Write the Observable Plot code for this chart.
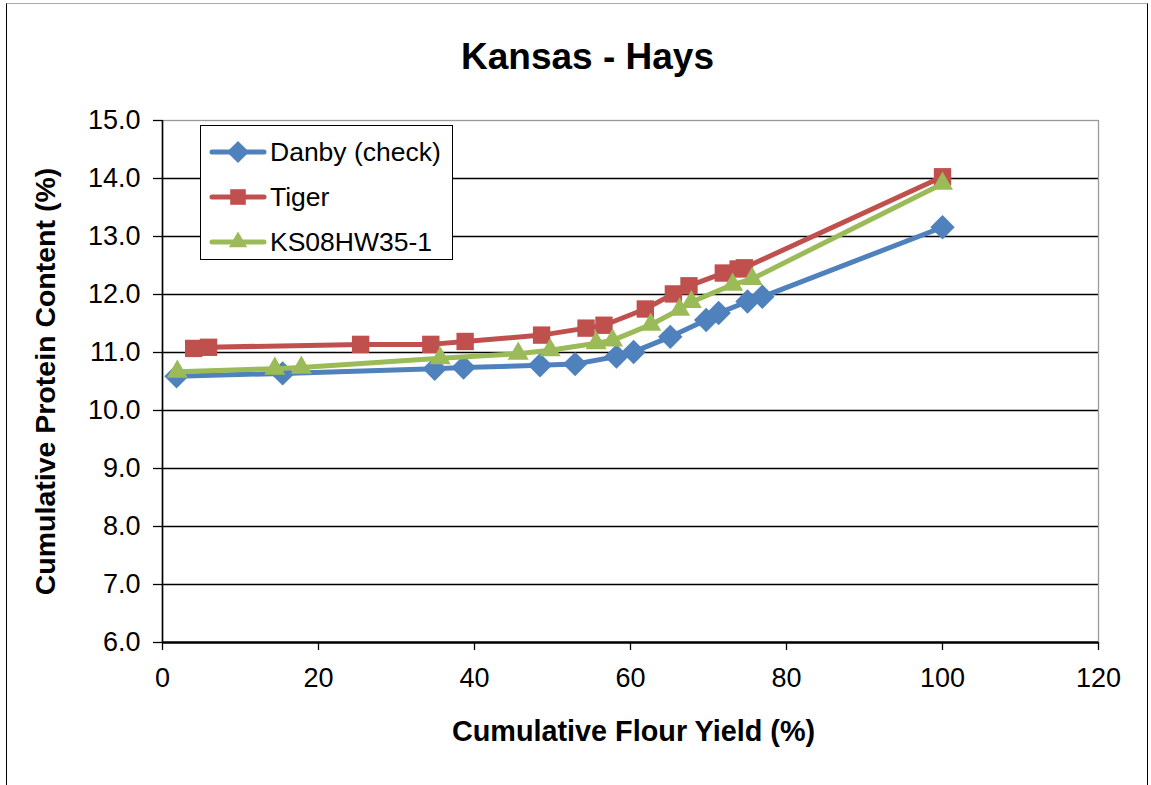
<!DOCTYPE html>
<html><head><meta charset="utf-8">
<script src="https://cdn.jsdelivr.net/npm/d3@7"></script>
<script src="https://cdn.jsdelivr.net/npm/@observablehq/plot@0.6"></script>
<style>
body{margin:0;background:#fff;font-family:Arial,"Liberation Sans",sans-serif}
#wrap{position:relative;width:1151px;height:785px;overflow:hidden;background:#fff}
#chart{position:absolute;left:0;top:0}
#border{position:absolute;left:6px;top:3px;width:1140px;height:800px;border:1.5px solid #000;border-top-color:#aaa;pointer-events:none}
#legend{position:absolute;left:200px;top:125px;width:251px;height:133px;border:1.5px solid #000;background:#fff;box-sizing:content-box}
.row{position:absolute;left:8px;height:30px;display:flex;align-items:center;font-size:26.5px;color:#000;white-space:nowrap}
.row svg{margin-right:3px}
</style></head><body>
<div id="wrap"><div id="chart"></div><div id="legend"></div><div id="border"></div></div>
<script>
const series = ["Danby (check)", "Tiger", "KS08HW35-1"];
const colors = ["#4F81BD", "#C0504D", "#9BBB59"];
const symbols = ["diamond2", "square", "triangle"];
const danbyX = [1.8, 15.4, 34.9, 38.6, 48.4, 52.9, 58.2, 60.4, 65.1, 69.7, 71.3, 75.0, 76.9, 100];
const danbyY = [10.59, 10.64, 10.72, 10.74, 10.78, 10.80, 10.93, 11.01, 11.27, 11.56, 11.68, 11.88, 11.96, 13.16];
const tigerX = [4.0, 5.9, 25.4, 34.4, 38.8, 48.6, 54.3, 56.6, 61.9, 65.5, 67.5, 71.9, 73.8, 74.6, 100];
const tigerY = [11.07, 11.09, 11.14, 11.14, 11.19, 11.30, 11.42, 11.47, 11.75, 12.01, 12.15, 12.37, 12.44, 12.46, 14.03];
const ksX = [1.9, 14.4, 17.8, 35.6, 45.6, 49.7, 55.6, 57.7, 62.6, 66.3, 67.8, 73.1, 75.6, 100];
const ksY = [10.67, 10.72, 10.74, 10.90, 10.98, 11.04, 11.16, 11.21, 11.48, 11.74, 11.87, 12.17, 12.27, 13.91];
const xTicks = [0, 20, 40, 60, 80, 100, 120];
const yTicks = [6, 7, 8, 9, 10, 11, 12, 13, 14, 15];
const title = "Kansas - Hays";
const xLabel = "Cumulative Flour Yield (%)";
const yLabel = "Cumulative Protein Content (%)";

const xsAll = [danbyX, tigerX, ksX];
const ysAll = [danbyY, tigerY, ksY];
const data = [];
series.forEach((s, i) => xsAll[i].forEach((x, j) => data.push({series: s, x, y: ysAll[i][j]})));

const radii = [11, 9.8, 7.8];
const seriesMarks = [];
series.forEach((s, i) => {
  const d = data.filter(p => p.series === s);
  seriesMarks.push(Plot.line(d, {x: "x", y: "y", stroke: colors[i], strokeWidth: 5, strokeLinejoin: "round", strokeLinecap: "round"}));
  seriesMarks.push(Plot.dot(d, {x: "x", y: "y", symbol: () => symbols[i], fill: colors[i], stroke: "none", r: radii[i]}));
});

const chart = Plot.plot({
  width: 1151, height: 785,
  marginLeft: 162, marginRight: 53, marginTop: 120, marginBottom: 143,
  style: {background: "transparent", fontFamily: "Arial, 'Liberation Sans', sans-serif", fontSize: "27px", color: "#000"},
  symbol: {type: "identity"},
  x: {domain: [0, 120]},
  y: {domain: [6, 15]},
  marks: [
    Plot.ruleY(yTicks.filter(v => v > 6 && v < 15), {stroke: "#000", strokeWidth: 1.3}),
    Plot.frame({stroke: "#999", strokeWidth: 1.3}),
    Plot.axisX({ticks: xTicks, tickSize: 8, tickPadding: 17, tickFormat: d => String(d), label: null, stroke: "#000", strokeWidth: 1.3, fontSize: 27}),
    Plot.axisY({ticks: yTicks, tickSize: 9, tickPadding: 13, tickFormat: d => d.toFixed(1), label: null, stroke: "#000", strokeWidth: 1.3, fontSize: 27}),
    Plot.ruleX([0], {stroke: "#000", strokeWidth: 1.6}),
    Plot.ruleY([6], {stroke: "#000", strokeWidth: 2.5}),
    ...seriesMarks,
    Plot.text([title], {frameAnchor: "top", lineAnchor: "middle", dy: -63, dx: -43, fontSize: 37, fontWeight: "bold", fill: "#000"}),
    Plot.text([xLabel], {frameAnchor: "bottom", lineAnchor: "middle", dy: 89, dx: 3, fontSize: 28.8, fontWeight: "bold", fill: "#000"}),
    Plot.text([yLabel], {frameAnchor: "left", textAnchor: "middle", lineAnchor: "middle", dx: -117, rotate: -90, fontSize: 28.5, fontWeight: "bold", fill: "#000"})
  ]
});
document.getElementById("chart").appendChild(chart);

// legend
const legend = document.getElementById("legend");
const d3sym = {diamond2: d3.symbolDiamond2, square: d3.symbolSquare, triangle: d3.symbolTriangle};
series.forEach((s, i) => {
  const row = document.createElement("div");
  row.className = "row";
  row.style.top = (11 + i * 45) + "px";
  const ns = "http://www.w3.org/2000/svg";
  const svg = document.createElementNS(ns, "svg");
  svg.setAttribute("width", 58); svg.setAttribute("height", 24);
  const line = document.createElementNS(ns, "line");
  line.setAttribute("x1", 3); line.setAttribute("x2", 55); line.setAttribute("y1", 12); line.setAttribute("y2", 12);
  line.setAttribute("stroke", colors[i]); line.setAttribute("stroke-width", 5); line.setAttribute("stroke-linecap", "round");
  svg.appendChild(line);
  const path = document.createElementNS(ns, "path");
  path.setAttribute("d", d3.symbol(d3sym[symbols[i]], Math.PI * (radii[i] - 1) * (radii[i] - 1))());
  path.setAttribute("transform", "translate(29,12)");
  path.setAttribute("fill", colors[i]);
  svg.appendChild(path);
  row.appendChild(svg);
  const t = document.createElement("span");
  t.textContent = s;
  row.appendChild(t);
  legend.appendChild(row);
});
</script>
</body></html>
